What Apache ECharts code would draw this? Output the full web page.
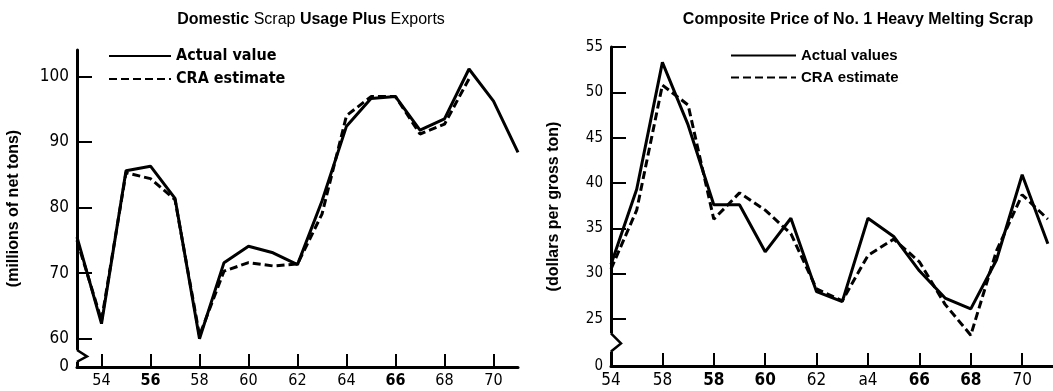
<!DOCTYPE html>
<html>
<head>
<meta charset="utf-8">
<script src="https://cdn.jsdelivr.net/npm/echarts@6/dist/echarts.min.js"></script>
<style>
  html, body { margin: 0; padding: 0; background: #fff; }
  #main { width: 1053px; height: 391px; }
</style>
</head>
<body>
<div id="main"></div>
<script>
// left panel: domestic scrap usage plus exports (millions of net tons)
let yearsL = [53, 54, 55, 56, 57, 58, 59, 60, 61, 62, 63, 64, 65, 66, 67, 68, 69, 70, 71];
let actualL = [75.5, 62.3, 85.6, 86.3, 81.4, 60.0, 71.6, 74.1, 73.1, 71.3, 81.0, 92.4, 96.6, 96.9, 91.8, 93.5, 101.1, 96.2, 88.4];
let craL = [75.0, 62.8, 85.3, 84.4, 81.2, 60.5, 70.3, 71.6, 71.1, 71.4, 79.0, 94.0, 96.9, 96.9, 91.2, 92.7, 99.6];
let tickYearsL = [54, 56, 58, 60, 62, 64, 66, 68, 70];
let tickLabelsL = ['54', '56', '58', '60', '62', '64', '66', '68', '70'];
let yTicksL = [60, 70, 80, 90, 100];

// right panel: composite price of no. 1 heavy melting scrap (dollars per gross ton)
let yearsR = [54, 55, 56, 57, 58, 59, 60, 61, 62, 63, 64, 65, 66, 67, 68, 69, 70, 71];
let actualR = [31.0, 39.3, 53.3, 46.4, 37.6, 37.6, 32.4, 36.1, 28.0, 26.9, 36.1, 34.1, 30.3, 27.3, 26.1, 31.5, 40.9, 33.3];
let craR = [30.5, 37.0, 50.8, 48.6, 36.0, 38.9, 37.0, 34.4, 28.3, 27.0, 32.0, 33.8, 31.3, 26.6, 23.2, 32.5, 38.7, 36.0];
let tickYearsR = [54, 56, 58, 60, 62, 64, 66, 68, 70];
let tickLabelsR = ['54', '58', '58', '60', '62', 'a4', '66', '68', '70'];
let yTicksR = [25, 30, 35, 40, 45, 50, 55];

let yMinL = 55.7, yMinR = 19.8;
let boldL = ['56', '66'];
let boldR = ['58', '60', '66', '68'];

let numFont = "'Liberation Sans Narrow', 'DejaVu Sans Condensed', 'Liberation Sans', sans-serif";
let textFont = "'Liberation Sans', Arial, sans-serif";

function pairs(xs, ys) {
  return ys.map(function (v, i) { return [xs[i], v]; });
}

function xLabel(years, labels, bold) {
  return function (v) {
    let i = years.indexOf(Math.round(v));
    if (i < 0) return '';
    let t = labels[i];
    // second "58" on the right panel is the bold one
    if (bold.indexOf(t) >= 0 && !(labels === tickLabelsR && i === 1)) return '{b|' + t + '}';
    return t;
  };
}

let axisLine = { show: true, onZero: false, lineStyle: { color: '#000', width: 3 } };

function xAxisOpt(gi, min, max, ticks, labelFn, fs) {
  return {
    type: 'value', gridIndex: gi, min: min, max: max,
    axisLine: axisLine,
    splitLine: { show: false },
    axisTick: { show: true, inside: true, length: 13, customValues: ticks, lineStyle: { color: '#000', width: 2 } },
    axisLabel: {
      customValues: ticks, margin: 6, color: '#000', fontSize: fs, fontFamily: numFont,
      formatter: labelFn,
      rich: { b: { fontSize: fs, fontFamily: numFont, fontWeight: 'bold', color: '#000' } }
    }
  };
}

function yAxisOpt(gi, min, max, ticks, name, gap, fs) {
  return {
    type: 'value', gridIndex: gi, min: min, max: max,
    name: name, nameLocation: 'middle', nameGap: gap,
    nameTextStyle: { color: '#000', fontSize: 16, fontWeight: 'bold', fontFamily: textFont },
    axisLine: axisLine,
    splitLine: { show: false },
    axisTick: { show: true, inside: true, length: 15, customValues: ticks, lineStyle: { color: '#000', width: 2 } },
    axisLabel: {
      customValues: [min].concat(ticks), margin: 8, color: '#000', fontSize: fs, fontFamily: numFont,
      formatter: function (v) { return Math.abs(v - min) < 0.01 ? '0' : String(v); }
    }
  };
}

function lineSeries(name, gi, data, dashed) {
  return {
    name: name, type: 'line', xAxisIndex: gi, yAxisIndex: gi,
    data: data, symbol: 'none', showSymbol: false, color: '#000',
    lineStyle: { color: '#000', width: 3, type: dashed ? [8, 4] : 'solid' }
  };
}

let chart = echarts.init(document.getElementById('main'));
let option = {
  backgroundColor: '#fff',
  animation: false,
  title: [
    {
      text: '{b|Domestic} Scrap {b|Usage Plus} Exports',
      left: 306, top: 7, textAlign: 'center',
      textStyle: {
        fontSize: 16, fontWeight: 'normal', color: '#000', fontFamily: textFont,
        rich: { b: { fontSize: 16, fontWeight: 'bold', color: '#000', fontFamily: textFont } }
      }
    },
    {
      text: 'Composite Price of No. 1 Heavy Melting Scrap',
      left: 853, top: 7, textAlign: 'center',
      textStyle: { fontSize: 16, fontWeight: 'bold', color: '#000', fontFamily: textFont }
    }
  ],
  legend: [
    {
      data: ['Actual value', 'CRA estimate'], orient: 'vertical', left: 103, top: 43,
      itemWidth: 62, itemHeight: 14, itemGap: 7,
      itemStyle: { opacity: 0 },
      textStyle: { color: '#000', fontSize: 16, fontWeight: 'bold', fontFamily: numFont }
    },
    {
      data: ['Actual values', 'CRA estimate'], orient: 'vertical', left: 725, top: 43,
      itemWidth: 65, itemHeight: 14, itemGap: 7,
      itemStyle: { opacity: 0 },
      textStyle: { color: '#000', fontSize: 15, fontWeight: 'bold', fontFamily: textFont }
    }
  ],
  grid: [
    { left: 77, top: 50, width: 441, height: 317 },
    { left: 611, top: 47, width: 442, height: 319 }
  ],
  xAxis: [
    xAxisOpt(0, 53, 71, tickYearsL, xLabel(tickYearsL, tickLabelsL, boldL), 16),
    xAxisOpt(1, 54, 71.2, tickYearsR, xLabel(tickYearsR, tickLabelsR, boldR), 17)
  ],
  yAxis: [
    yAxisOpt(0, yMinL, 104, yTicksL, '(millions of net tons)', 55, 17),
    yAxisOpt(1, yMinR, 55, yTicksR, '(dollars per gross ton)', 49, 15)
  ],
  series: [
    lineSeries('Actual value', 0, pairs(yearsL, actualL), false),
    lineSeries('CRA estimate', 0, pairs(yearsL, craL), true),
    lineSeries('Actual values', 1, pairs(yearsR, actualR), false),
    lineSeries('CRA estimate', 1, pairs(yearsR, craR), true)
  ]
};
chart.setOption(option);

// axis break marks on both y axes
function zigzag(gi, x0, vTop, vBot) {
  let a = chart.convertToPixel({ gridIndex: gi }, [x0, vTop]);
  let b = chart.convertToPixel({ gridIndex: gi }, [x0, vBot]);
  let x = a[0];
  return [
    { type: 'rect', shape: { x: x - 3, y: a[1], width: 6, height: b[1] - a[1] }, style: { fill: '#fff' }, z: 100 },
    {
      type: 'polyline', z: 101,
      shape: { points: [[x, a[1]], [x + 10, a[1] + (b[1] - a[1]) * 0.55], [x, b[1]]] },
      style: { stroke: '#000', lineWidth: 2.5, fill: null }
    }
  ];
}
chart.setOption({
  graphic: zigzag(0, 53, 58.3, 56.5).concat(zigzag(1, 54, 23.4, 21.4))
});
</script>
</body>
</html>
